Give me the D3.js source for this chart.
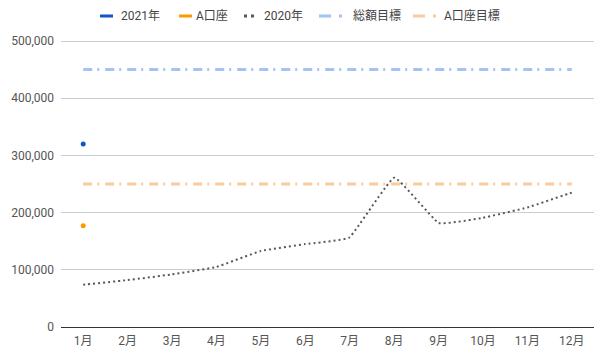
<!DOCTYPE html>
<html><head><meta charset="utf-8">
<script src="https://cdn.jsdelivr.net/npm/d3@7"></script>
<style>body{margin:0;background:#fff}text{font-family:Roboto,Arial,"Noto Sans CJK JP",sans-serif}</style>
</head><body><svg id="c" width="600" height="360"></svg>
<script>
const months = ["1月","2月","3月","4月","5月","6月","7月","8月","9月","10月","11月","12月"];
const series2021 = [320000];
const seriesA = [177000];
const series2020 = [74000, 82000, 92000, 105000, 133000, 145000, 157000, 261000, 182000, 191000, 209000, 235000];
const targetTotal = 450000;
const targetA = 250000;
const yTicks = [0, 100000, 200000, 300000, 400000, 500000];
const legendItems = ["2021年","A口座","2020年","総額目標","A口座目標"];

const svg = d3.select("#c");
const L = 61, R = 594, T = 41, B = 327;
const x = d3.scaleBand().domain(months).range([L, R]);
const y = d3.scaleLinear().domain([0, 500000]).range([B, T]);
const cx = m => x(m) + x.bandwidth()/2;
const axisColor = "#555";

// gridlines
svg.append("g").selectAll("line").data(yTicks.slice(1)).join("line")
  .attr("x1", L).attr("x2", R).attr("y1", d=>y(d)).attr("y2", d=>y(d))
  .attr("stroke", "#cccccc").attr("stroke-width", 1).attr("shape-rendering","crispEdges");

// y labels
const fmt = d3.format(",");
svg.append("g").selectAll("text").data(yTicks).join("text")
  .attr("x", 54).attr("y", d=>y(d)).attr("dy", "0.35em").attr("text-anchor","end")
  .attr("font-size", 12).attr("fill", axisColor).text(d=>fmt(d));

// x labels
svg.append("g").selectAll("text").data(months).join("text")
  .attr("x", d=>cx(d)).attr("y", 345).attr("text-anchor","middle")
  .attr("font-size", 12).attr("fill", axisColor).text(d=>d);

// target lines
const dashDot = "9,5,2,6";
[[targetTotal,"#a4c2f4"],[targetA,"#f9cb9c"]].forEach(([v,c])=>{
  svg.append("line").attr("x1", cx(months[0])).attr("x2", cx(months[11]))
    .attr("y1", y(v)).attr("y2", y(v)).attr("stroke", c).attr("stroke-width", 3)
    .attr("stroke-dasharray", dashDot);
});

// 2020 dotted line
const line = d3.line().x((d,i)=>cx(months[i])).y(d=>y(d)).curve(d3.curveCardinal.tension(0.7));
svg.append("path").datum(series2020).attr("d", line).attr("fill","none")
  .attr("stroke", "#595959").attr("stroke-width", 2).attr("stroke-dasharray","2,3");

// baseline
svg.append("line").attr("x1", L).attr("x2", R).attr("y1", B).attr("y2", B)
  .attr("stroke", "#333").attr("stroke-width", 1).attr("shape-rendering","crispEdges");

// points
svg.selectAll(".p21").data(series2021).join("circle").attr("cx",(d,i)=>cx(months[i])).attr("cy", d=>y(d)).attr("r", 2.5).attr("fill","#1155cc");
svg.selectAll(".pA").data(seriesA).join("circle").attr("cx",(d,i)=>cx(months[i])).attr("cy", d=>y(d)).attr("r", 2.5).attr("fill","#ff9900");

// legend
const ly = 16;
const lg = svg.append("g");
const lx = [100, 179, 244, 319, 413];
const tx = [121, 196, 264, 353, 444];
lg.append("line").attr("x1", lx[0]).attr("x2", lx[0]+13).attr("y1", ly).attr("y2", ly).attr("stroke","#1155cc").attr("stroke-width",3);
lg.append("line").attr("x1", lx[1]).attr("x2", lx[1]+13).attr("y1", ly).attr("y2", ly).attr("stroke","#ff9900").attr("stroke-width",3);
lg.append("line").attr("x1", lx[2]).attr("x2", lx[2]+13).attr("y1", ly).attr("y2", ly).attr("stroke","#595959").attr("stroke-width",3).attr("stroke-dasharray","3,4");
lg.append("line").attr("x1", lx[3]).attr("x2", lx[3]+24).attr("y1", ly).attr("y2", ly).attr("stroke","#a4c2f4").attr("stroke-width",3).attr("stroke-dasharray","12,8,3,10");
lg.append("line").attr("x1", lx[4]).attr("x2", lx[4]+24).attr("y1", ly).attr("y2", ly).attr("stroke","#f9cb9c").attr("stroke-width",3).attr("stroke-dasharray","12,8,3,10");
lg.selectAll("text").data(legendItems).join("text")
  .attr("x",(d,i)=>tx[i]).attr("y", ly).attr("dy","0.35em").attr("font-size",12).attr("fill","#444").text(d=>d);
</script></body></html>
